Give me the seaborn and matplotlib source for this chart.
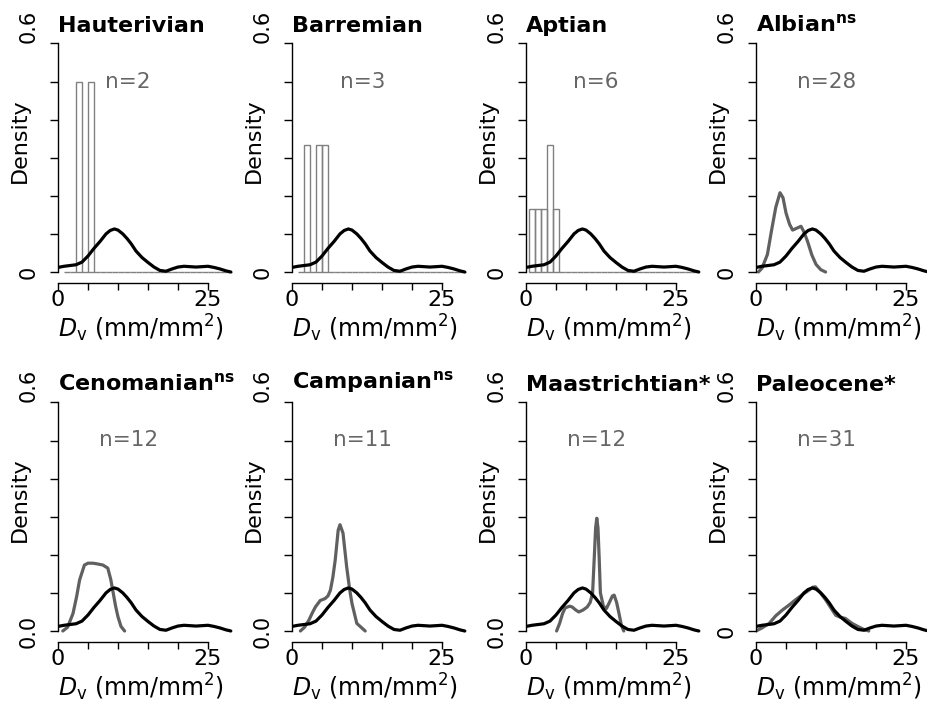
import matplotlib
matplotlib.use('Agg')
import matplotlib.pyplot as plt
import seaborn as sns
import numpy as np

sns.set_style('ticks')
plt.rcParams['font.family'] = ['DejaVu Sans']
plt.rcParams['mathtext.fontset'] = 'dejavusans'
for k in ('text.color', 'axes.labelcolor', 'xtick.color', 'ytick.color', 'axes.edgecolor'):
    plt.rcParams[k] = 'black'

# ---------------- data ----------------
titles = ['Hauterivian', 'Barremian', 'Aptian', r'Albian$^{\mathbf{ns}}$',
          r'Cenomanian$^{\mathbf{ns}}$', r'Campanian$^{\mathbf{ns}}$',
          'Maastrichtian*', 'Paleocene*']
n_labels = ['n=2', 'n=3', 'n=6', 'n=28', 'n=12', 'n=11', 'n=12', 'n=31']
ytick_low_labels = ['0', '0', '0', '0', '0.0', '0.0', '0.0', '0']
x_ticks = [0, 5, 10, 15, 20, 25]
x_tick_labels = ['0', '', '', '', '', '25']
y_ticks = [0, 0.1, 0.2, 0.3, 0.4, 0.5, 0.6]

# reference density (black curve, same in every panel)
ref_x = [0.0, 1.0, 2.0, 3.0, 4.0, 5.0, 6.0, 7.0, 8.0, 8.7, 9.4, 10.0, 10.8, 11.5,
         12.2, 13.0, 14.0, 15.0, 16.0, 17.0, 18.0, 19.0, 20.0, 21.0, 22.0, 23.0,
         24.0, 25.0, 26.0, 27.0, 28.0, 28.8]
ref_y = [0.012, 0.015, 0.017, 0.019, 0.026, 0.042, 0.062, 0.080, 0.100, 0.109, 0.113,
         0.110, 0.100, 0.088, 0.074, 0.055, 0.038, 0.025, 0.013, 0.004, 0.002, 0.008,
         0.013, 0.015, 0.014, 0.013, 0.014, 0.015, 0.012, 0.008, 0.003, 0.0]

# histograms (bin edges, bar heights) for small samples
haut_edges = list(range(1, 30))
haut_heights = [0, 0, 0.5, 0, 0.5] + [0] * 23
barr_edges = list(range(1, 30))
barr_heights = [0, 1/3, 0, 1/3, 1/3] + [0] * 23
apt_edges = [e + 0.5 for e in range(0, 29)]
apt_heights = [1/6, 1/6, 1/6, 2/6, 1/6] + [0] * 23

# period densities (gray curves)
alb_x = [0.4, 1.0, 1.9, 2.6, 3.3, 4.0, 4.5, 5.0, 5.6, 6.1, 6.8, 7.5, 8.0, 8.6, 9.3, 10.0, 10.8, 11.6]
alb_y = [0.0, 0.010, 0.046, 0.110, 0.170, 0.208, 0.195, 0.155, 0.125, 0.110, 0.115, 0.120,
         0.105, 0.080, 0.045, 0.020, 0.006, 0.0]
cen_x = [0.8, 1.6, 2.5, 3.1, 3.6, 4.4, 5.0, 5.8, 6.6, 7.5, 8.3, 8.8, 9.2, 9.6, 10.0, 10.5, 11.1]
cen_y = [0.0, 0.010, 0.046, 0.090, 0.134, 0.173, 0.178, 0.178, 0.176, 0.173, 0.165, 0.135,
         0.100, 0.065, 0.037, 0.012, 0.0]
cam_x = [1.4, 2.1, 2.8, 3.4, 3.9, 4.7, 5.5, 6.0, 6.4, 6.8, 7.2, 7.7, 8.0, 8.5, 9.1, 9.6, 10.0, 10.8, 12.2]
cam_y = [0.0, 0.010, 0.028, 0.048, 0.063, 0.080, 0.085, 0.092, 0.107, 0.140, 0.186, 0.265,
         0.279, 0.257, 0.170, 0.110, 0.072, 0.020, 0.0]
maa_x = [5.1, 5.6, 6.1, 6.5, 6.9, 7.3, 7.7, 8.3, 8.8, 9.5, 10.2, 10.7, 11.1, 11.4, 11.6, 11.8,
         12.0, 12.2, 12.4, 12.9, 13.4, 13.9, 14.4, 14.7, 15.1, 15.5, 15.9, 16.3]
maa_y = [0.0, 0.020, 0.046, 0.060, 0.063, 0.065, 0.063, 0.055, 0.050, 0.055, 0.063, 0.075,
         0.100, 0.200, 0.270, 0.296, 0.270, 0.190, 0.100, 0.065, 0.059, 0.075, 0.092, 0.094,
         0.075, 0.046, 0.015, 0.0]
pal_x = [0.0, 1.0, 2.2, 3.3, 4.4, 5.5, 6.6, 7.7, 8.8, 9.5, 9.9, 10.5, 11.6, 12.5, 13.3, 14.1,
         14.9, 16.0, 17.2, 18.0, 18.8]
pal_y = [0.0, 0.008, 0.020, 0.040, 0.055, 0.068, 0.082, 0.095, 0.107, 0.115, 0.116, 0.105,
         0.082, 0.060, 0.041, 0.036, 0.033, 0.020, 0.010, 0.004, 0.0]

hists = [(haut_edges, haut_heights), (barr_edges, barr_heights), (apt_edges, apt_heights),
         None, None, None, None, None]
curves = [None, None, None, (alb_x, alb_y), (cen_x, cen_y), (cam_x, cam_y),
          (maa_x, maa_y), (pal_x, pal_y)]

# ---------------- layout ----------------
W, H = 928, 705
fig = plt.figure(figsize=(W / 100, H / 100), dpi=100)
axis_px = [58, 292, 526, 756]
zero_px = [272, 631]
PXX, PXY = 6.0, 381.0
XLIM = (0, 29.2)
YLIM = (-0.029, 0.62)

HIST_GRAY = '#808080'
CURVE_GRAY = '#606060'
TEXT_GRAY = '#666666'

for i in range(8):
    r, c = divmod(i, 4)
    left = axis_px[c]
    width = (XLIM[1] - XLIM[0]) * PXX
    height = (YLIM[1] - YLIM[0]) * PXY
    bottom_td = zero_px[r] - YLIM[0] * PXY
    ax = fig.add_axes([left / W, 1 - bottom_td / H, width / W, height / H])

    if hists[i] is not None:
        edges, heights = hists[i]
        centers = [(a + b) / 2 for a, b in zip(edges[:-1], edges[1:])]
        sns.histplot(x=centers, weights=heights, bins=edges, stat='count', fill=False,
                     element='bars', color=HIST_GRAY, linewidth=1.0, ax=ax)
    if curves[i] is not None:
        cx, cy = curves[i]
        sns.lineplot(x=cx, y=cy, color=CURVE_GRAY, linewidth=2.3, sort=False, ax=ax)
    sns.lineplot(x=ref_x, y=ref_y, color='black', linewidth=2.3, sort=False, ax=ax)

    ax.set_xlim(*XLIM)
    ax.set_ylim(*YLIM)
    sns.despine(ax=ax)
    ax.spines['left'].set_bounds(0, 0.6)
    ax.spines['bottom'].set_bounds(0, 25)
    for s in ('left', 'bottom'):
        ax.spines[s].set_linewidth(1.0)
        ax.spines[s].set_color('black')

    ax.set_xticks(x_ticks)
    ax.set_xticklabels(x_tick_labels, fontsize=16)
    ax.tick_params(axis='x', length=5, width=1.0, pad=0, direction='out', colors='black')
    ylabels = [ytick_low_labels[i], '', '', '', '', '', '0.6']
    ax.set_yticks(y_ticks)
    ax.set_yticklabels(ylabels, fontsize=15, rotation=90)
    ax.tick_params(axis='y', length=6, width=1.0, pad=8, direction='out', colors='black')
    tl = ax.get_yticklabels()
    for t in tl:
        t.set_va('center')
    tl[-1].set_va('bottom')

    ax.set_xlabel(r'$D_{\mathrm{v}}$ (mm/mm$^2$)', fontsize=17, labelpad=0)
    ax.xaxis.label.set_va('top')
    ax.xaxis.set_label_coords(0.475, -0.12)
    ax.set_ylabel('Density', fontsize=16)
    ax.yaxis.label.set_va('center')
    ax.yaxis.set_label_coords(-0.22, 0.575)

    ax.set_title(titles[i], loc='left', fontsize=16, fontweight='bold', pad=2, color='black')
    ax.text(11.7, 0.5, n_labels[i], ha='center', va='center', color=TEXT_GRAY, fontsize=15.5)

fig.savefig('out.png', dpi=100)
